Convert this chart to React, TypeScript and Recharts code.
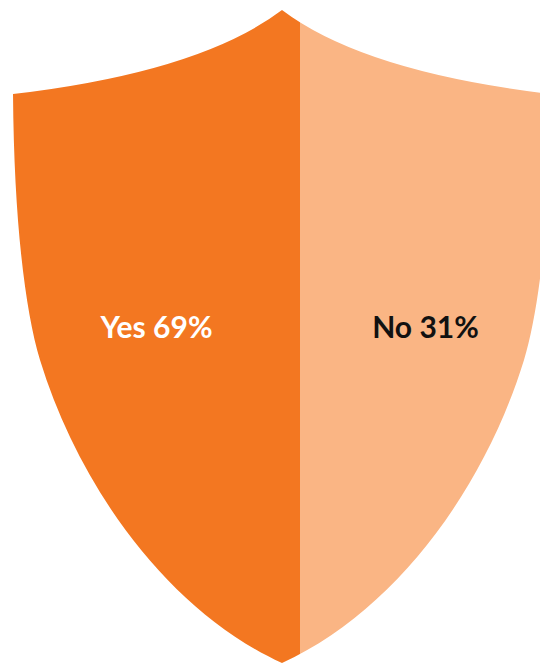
import { BarChart, Bar, XAxis, YAxis } from "recharts";

const categories = ["Yes", "No"];
const shares = [69, 31];
const colors = ["#F37721", "#FAB584"];
const labelColors = ["#FFFFFF", "#111111"];

const data = categories.map((name, i) => ({ name, share: shares[i] }));

// shield outline used as a clip mask for both halves
const SHIELD_LEFT = 13;
const SHIELD_RIGHT = 551;
const SHIELD_PATH =
  "M13,94 Q200,72 282,10 Q364,72 551,94 C550,220 539,310 524,360 " +
  "C484,490 394,612 282,663 C170,612 80,490 40,360 C25,310 14,220 13,94 Z";

function ShieldHalf(props: any) {
  const { x, width, index, background, payload } = props;
  const top = background?.y ?? 0;
  const h = background?.height ?? 664;
  // center label on the part of the band that sits inside the shield
  const left = Math.max(x, SHIELD_LEFT);
  const right = Math.min(x + width, SHIELD_RIGHT);
  const cx = (left + right) / 2;
  const cy = top + h / 2;
  return (
    <g>
      <rect
        x={x}
        y={top}
        width={width}
        height={h}
        fill={colors[index]}
        clipPath="url(#shield)"
      />
      <text
        x={cx}
        y={cy}
        dy="-0.2em"
        textAnchor="middle"
        dominantBaseline="central"
        fontFamily="Lato, 'Open Sans', sans-serif"
        fontWeight={700}
        fontSize={30}
        fill={labelColors[index]}
      >
        {payload.name} {payload.share}%
      </text>
    </g>
  );
}

export default function App() {
  return (
    <div
      style={{
        position: "absolute",
        left: 0,
        top: 0,
        width: 540,
        height: 664,
        overflow: "hidden",
        background: "#fff",
      }}
    >
      <BarChart
        width={587}
        height={664}
        data={data}
        margin={{ top: 0, right: 0, bottom: 0, left: 13 }}
        barCategoryGap={0}
        barGap={0}
      >
        <defs>
          <clipPath id="shield">
            <path d={SHIELD_PATH} />
          </clipPath>
        </defs>
        <XAxis dataKey="name" hide />
        <YAxis hide domain={[0, 100]} />
        <Bar dataKey="share" isAnimationActive={false} shape={<ShieldHalf />} />
      </BarChart>
    </div>
  );
}
